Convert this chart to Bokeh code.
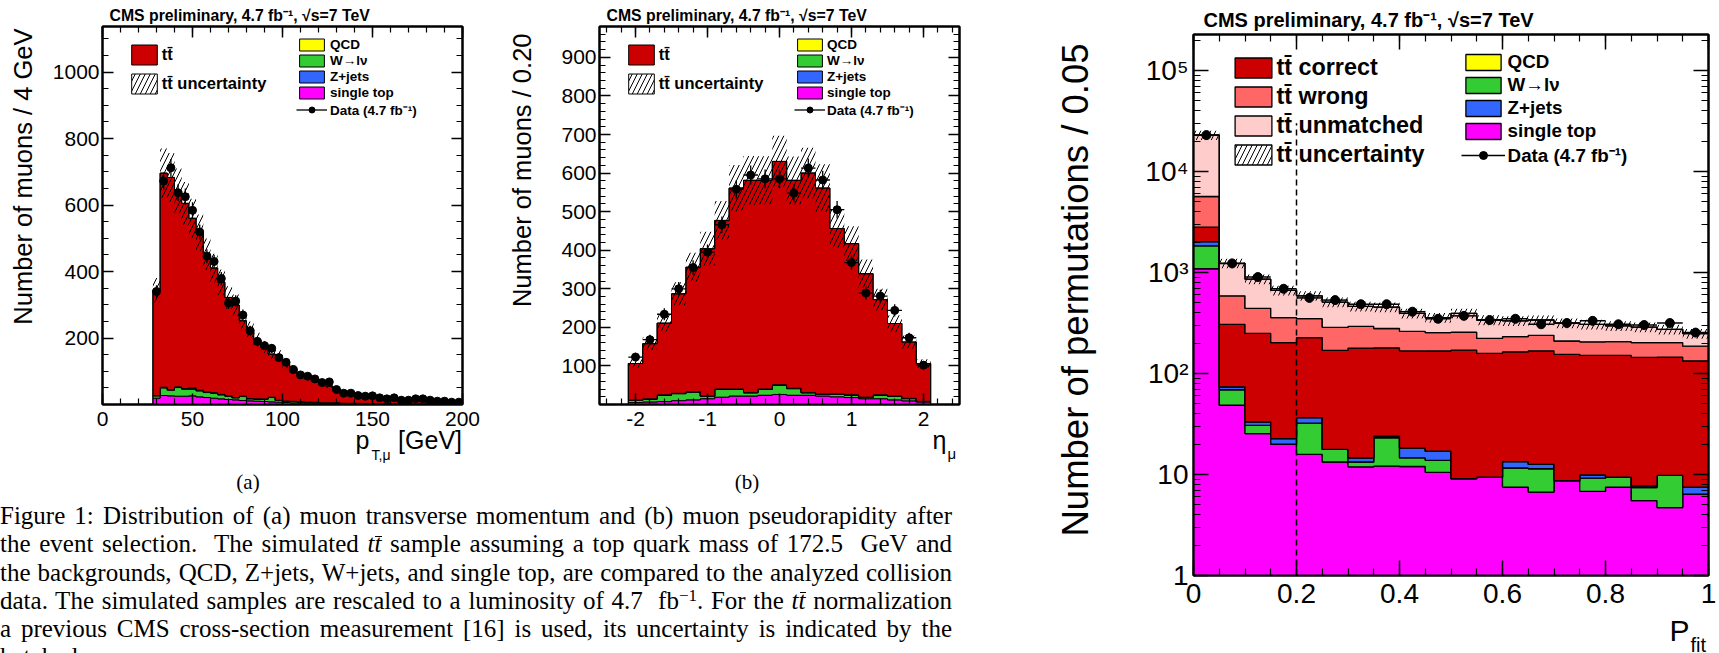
import numpy as np
from bokeh.plotting import figure
from bokeh.models import (FixedTicker, LinearAxis, LogAxis, Label, Legend, LegendItem,
                          Div, CustomJSTickFormatter)
from bokeh.layouts import row, column
from bokeh.embed import file_html
from bokeh.resources import INLINE

FONT = "Liberation Sans"

# ------------------------------------------------------------------ data (a): muon pT
pt_first_edge = 28.0
pt_bin_width = 4.0
pt_data = [340, 672, 712, 637, 625, 584, 519, 446, 430, 379, 305, 311, 269, 222, 190,
           177, 169, 141, 127, 105, 89, 85, 77, 66, 68, 45, 34, 34, 27, 25, 26, 20, 17,
           20, 13, 13, 17, 17, 13, 10, 10, 7, 7]
pt_ttbar = [317, 644, 638, 589, 557, 510, 474, 414, 375, 337, 296, 278, 227, 208, 178,
            155, 130, 135, 111, 97, 83, 75, 65, 58, 50, 42, 36, 32, 28, 24, 21, 18, 17,
            14, 12, 11, 9.6, 8.6, 7.9, 6.9, 6.1, 5.1, 5.2]
pt_single_top = [19, 27, 26, 25, 25, 26, 23, 21, 19, 17, 15, 14, 12, 11, 10, 9, 8, 7, 6, 5,
                 5, 4, 4, 3, 3, 3, 2, 2, 2, 2, 1.5, 1.5, 1.2, 1, 1, 1, 0.8, 0.8, 0.6, 0.6,
                 0.5, 0.5, 0.4]
pt_wjets = [7, 23, 17, 26, 21, 20, 18, 15, 15, 12, 10, 6, 12, 6, 6, 7, 13, 5, 4, 4, 3, 3,
            2.5, 2, 2, 2, 1.5, 1.5, 1.2, 1, 1, 1, 0.8, 0.8, 0.6, 0.6, 0.5, 0.5, 0.4, 0.4,
            0.3, 0.3, 0.3]
pt_zjets = [1, 2, 2, 2, 2, 4, 2, 2, 1.5, 1.5, 1, 1, 1, 1, 1, 0.8, 0.8, 0.7, 0.6, 0.5, 0.5,
            0.4, 0.4, 0.3, 0.3, 0.3, 0.2, 0.2, 0.2, 0.2, 0.2, 0.2, 0.1, 0.1, 0.1, 0.1, 0.1,
            0.1, 0.1, 0.1, 0.1, 0.1, 0.1]
pt_qcd = [0, 0, 0, 0, 0, 0, 0, 0, 0, 0, 0, 0, 0, 0, 0, 0, 0, 0, 0, 0, 0, 0, 0, 0, 0, 0,
          0, 0, 0, 0, 0, 0, 0, 0, 0, 0, 0, 0, 0, 0, 0, 0, 0]

# ------------------------------------------------------------------ data (b): muon eta
eta_first_edge = -2.1
eta_bin_width = 0.2
eta_data = [123, 168, 234, 300, 355, 395, 466, 558, 595, 585, 585, 548, 613, 582, 505,
            368, 289, 281, 244, 173, 102]
eta_ttbar = [95, 143, 186, 258, 323, 382, 437, 521, 550, 541, 579, 539, 569, 534, 429,
             392, 320, 247, 188, 146, 98]
eta_single_top = [5, 6.6, 7.5, 10, 12, 15, 19, 22, 22, 24, 26, 24, 24, 22, 20, 18, 15, 15,
                  12, 9.4, 6.6]
eta_wjets = [5.5, 7, 16.5, 18, 20, 6, 20, 17, 8, 15, 24, 17, 6, 4, 6, 6, 3, 9, 9, 5.6, 1]
eta_zjets = [0.8, 1, 1, 1, 1, 1, 1.2, 1.2, 1.2, 1.2, 1.2, 1.2, 1.2, 1.2, 1.2, 1, 1, 1, 1,
             1, 0.6]
eta_qcd = [0, 0, 0, 0, 0, 0, 0, 0, 0, 0, 0, 0, 0, 0, 0, 0, 0, 0, 0, 0, 0]

# ------------------------------------------------------------------ data (c): P_fit
pfit_first_edge = 0.0
pfit_bin_width = 0.05
pfit_data = [22900, 1230, 901, 690, 560, 533, 485, 485, 409, 348, 372, 338, 348, 307, 316,
             332, 307, 302, 316, 254]
pfit_tt_correct = [795, 233, 216, 179, 190, 152, 164, 155, 149, 150, 161, 149, 150, 155,
                   146, 141, 142, 137, 135, 126]
pfit_tt_wrong = [2832, 280, 192, 156, 122, 117, 114, 100, 94, 87, 86, 64, 68, 71, 55, 55,
                 55, 57, 57, 53]
pfit_tt_unmatched = [17250, 645, 418, 306, 239, 222, 169, 175, 133, 104, 138, 116, 101,
                     100, 106, 101, 90, 86, 72, 62]
pfit_single_top = [1089, 48.5, 25.4, 20, 15.8, 13.3, 11.9, 12.1, 12.0, 10.5, 9.1, 9.4, 7.5,
                   6.7, 8.7, 6.8, 7.5, 5.5, 4.7, 6.4]
pfit_wjets = [748, 20.5, 5.3, 0, 16.4, 4.4, 1.4, 11, 2.6, 3.3, 0, 0, 4.1, 4.7, 0, 2.4, 1.9,
              1.9, 5.1, 0]
pfit_zjets = [186, 4.8, 2.5, 2.7, 4.3, 0, 1.3, 0.9, 3.6, 3.2, 0, 0, 1.8, 1.2, 0, 0.7, 0,
              0.3, 0, 1.1]
pfit_qcd = [0, 0, 0, 0, 0, 0, 0, 0, 0, 0, 0, 0, 0, 0, 0, 0, 0, 0, 0, 0]
pfit_cut = 0.2
pfit_cut_line_top = 3.0e4
pfit_axis_min = 1.0
pfit_axis_max = 2.27e5
log_floor = 0.1

ttbar_rel_unc = 0.115

TITLE = "CMS preliminary, 4.7 fb\u207b\u00b9, \u221as=7 TeV"
TT = "tt\u0304"

C_TT = "#cc0000"
C_WRONG = "#ff6666"
C_UNM = "#ffcccc"
C_QCD = "#ffff00"
C_W = "#33cc33"
C_Z = "#3366ff"
C_ST = "#ff00ff"

MID = 0.35  # distance (in em) from the vertical middle of a text box down to its baseline
HATCH = 10


# ------------------------------------------------------------------ helpers
def make_fig(width, height, bl, br, bt, bb, xr, yr, ylog=False):
    p = figure(width=width, height=height, x_range=xr, y_range=yr,
               y_axis_type="log" if ylog else "linear",
               output_backend="svg", toolbar_location=None,
               min_border_left=bl, min_border_right=br,
               min_border_top=bt, min_border_bottom=bb)
    p.xgrid.visible = False
    p.ygrid.visible = False
    p.outline_line_color = "black"
    p.outline_line_width = 2
    p.background_fill_color = "white"
    p.border_fill_color = "white"
    return p


class Strip:
    """A text-only figure; texts are placed by page pixel (baseline) positions."""

    def __init__(self, x0, y0, w, h, bl=0, br=0, bt=0, bb=0):
        self.fl = x0 + bl
        self.fb = y0 + h - bb
        s = figure(width=w, height=h, x_range=(0, 1), y_range=(0, 1),
                   output_backend="svg", toolbar_location=None,
                   min_border_left=bl, min_border_right=br,
                   min_border_top=bt, min_border_bottom=bb,
                   x_axis_location=None, y_axis_location=None)
        s.grid.visible = False
        s.outline_line_color = None
        s.background_fill_color = "white"
        s.border_fill_color = "white"
        self.fig = s

    def text(self, px, py, text, size, bold=False, align="left", vertical=False):
        if vertical:
            ax, ay, ang = px - MID * size, py, np.pi / 2
        else:
            ax, ay, ang = px, py - MID * size, 0.0
        self.fig.add_layout(Label(
            x=ax - self.fl, y=self.fb - ay, x_units="screen", y_units="screen",
            text=text, text_font=FONT, text_font_size=f"{size}px",
            text_font_style="bold" if bold else "normal", text_color="black",
            text_align=align, text_baseline="middle", angle=ang))


NUM_FMT = "return (Math.round(tick*100)/100).toString();"
LOG_FMT = ("const e = Math.round(Math.log10(tick));"
           "const sup = ['\u2070','\u00b9','\u00b2','\u00b3','\u2074','\u2075','\u2076'];"
           "if (e === 0) return '1'; if (e === 1) return '10'; return '10' + sup[e];")
EMPTY_FMT = "return '';"


def style_axis(ax, ticker, major_len, minor_len, font_size, standoff, fmt):
    ax.ticker = ticker
    ax.formatter = CustomJSTickFormatter(code=fmt)
    ax.major_tick_in = major_len
    ax.major_tick_out = 0
    ax.minor_tick_in = minor_len
    ax.minor_tick_out = 0
    ax.axis_line_color = "black"
    ax.axis_line_width = 2
    ax.major_tick_line_color = "black"
    ax.major_tick_line_width = 1.5
    ax.minor_tick_line_color = "black"
    ax.minor_tick_line_width = 1.2
    ax.major_label_text_font = FONT
    ax.major_label_text_font_size = f"{font_size}px"
    ax.major_label_text_color = "black"
    ax.major_label_standoff = standoff
    ax.axis_label_standoff = 0


def setup_axes(p, xt, yt, major_len, minor_len, font_size, xs_off, ys_off, ylog=False):
    style_axis(p.xaxis[0], xt, major_len, minor_len, font_size, xs_off, NUM_FMT)
    style_axis(p.yaxis[0], yt, major_len, minor_len, font_size, ys_off,
               LOG_FMT if ylog else NUM_FMT)
    top = LinearAxis()
    style_axis(top, xt, major_len, minor_len, 1, 0, EMPTY_FMT)
    p.add_layout(top, "above")
    right = LogAxis() if ylog else LinearAxis()
    style_axis(right, yt, major_len, minor_len, 1, 0, EMPTY_FMT)
    p.add_layout(right, "right")


def band_polygon(edges, lower, upper):
    n = len(lower)
    xs, ys = [], []
    for i in range(n):
        xs += [edges[i], edges[i + 1]]
        ys += [upper[i], upper[i]]
    for i in reversed(range(n)):
        xs += [edges[i + 1], edges[i]]
        ys += [lower[i], lower[i]]
    return xs, ys


def draw_stack(p, edges, layers, colors, base, line_w):
    n = len(layers[0])
    cum = np.zeros(n)
    rends = []
    for vals, col in zip(layers, colors):
        vals = np.asarray(vals, dtype=float)
        lower = cum.copy()
        upper = cum + vals
        lo = np.maximum(lower, base) if base > 0 else lower
        xs, ys = band_polygon(edges, lo, upper)
        rends.append(p.patch(xs, ys, fill_color=col, line_color="black", line_width=line_w))
        cum = upper
    # unfilled outline of the whole stack (coincides with the top layer's outline)
    lo0 = np.full(n, base) if base > 0 else np.zeros(n)
    xs, ys = band_polygon(edges, lo0, cum)
    outline = p.patch(xs, ys, fill_alpha=0, line_color="black", line_width=line_w)
    return cum, rends, outline


def draw_band(p, edges, total, tt_total):
    unc = np.asarray(tt_total) * ttbar_rel_unc
    xs, ys = band_polygon(edges, total - unc, total + unc)
    return p.patch(xs, ys, fill_alpha=0, line_alpha=0, hatch_pattern="/",
                   hatch_color="black", hatch_scale=HATCH, hatch_weight=1)


def draw_data(p, edges, data, size, lw):
    edges = np.asarray(edges)
    centers = 0.5 * (edges[:-1] + edges[1:])
    half = 0.5 * (edges[1:] - edges[:-1])
    d = np.asarray(data, dtype=float)
    err = np.sqrt(d)
    p.segment(x0=centers, y0=d - err, x1=centers, y1=d + err, line_color="black", line_width=lw)
    h = p.segment(x0=centers - half, y0=d, x1=centers + half, y1=d, line_color="black",
                  line_width=lw)
    s = p.scatter(centers, d, size=size, marker="circle", fill_color="black", line_color="black")
    return [h, s]


def add_legend(p, frame_left, frame_bottom, entries, box_left, box_top, box_w, box_h,
               row_h, font_size, text_left):
    gw = int(round(box_w / 0.8))
    gh = int(round(box_h / 0.8))
    lx = box_left - 0.1 * gw
    y0 = box_top - 0.1 * gh
    bottom = y0 + len(entries) * row_h
    items = [LegendItem(label=lab, renderers=rs) for lab, rs in entries]
    leg = Legend(items=items, location=(lx - frame_left, frame_bottom - bottom),
                 glyph_width=gw, glyph_height=gh, label_height=row_h, spacing=0,
                 padding=0, margin=0, label_standoff=int(round(text_left - (lx + gw))),
                 label_text_font=FONT, label_text_font_style="bold",
                 label_text_font_size=f"{font_size}px", label_text_color="black",
                 border_line_alpha=0, background_fill_alpha=0)
    p.add_layout(leg, "center")


# ------------------------------------------------------------------ panel (a)
pt_edges = pt_first_edge + pt_bin_width * np.arange(len(pt_data) + 1)
pa = make_fig(440, 405, 62, 18, 2, 25, (0, 200), (0, 1137))
setup_axes(pa, FixedTicker(ticks=[0, 50, 100, 150, 200], minor_ticks=list(range(0, 201, 10))),
           FixedTicker(ticks=[200, 400, 600, 800, 1000], minor_ticks=list(range(0, 1137, 50))),
           11, 6, 21, 7, 3)
tot_a, ra, out_a = draw_stack(pa, pt_edges, [pt_single_top, pt_wjets, pt_zjets, pt_qcd, pt_ttbar],
                              [C_ST, C_W, C_Z, C_QCD, C_TT], 0, 1)
band_a = draw_band(pa, pt_edges, tot_a, pt_ttbar)
dat_a = draw_data(pa, pt_edges, pt_data, 8, 1.3)
FLa, FBa = 102, 404
add_legend(pa, FLa, FBa, [(TT, [ra[4]]), (TT + " uncertainty", [band_a, out_a])],
           131, 42, 26, 20, 29, 16.5, 162)
add_legend(pa, FLa, FBa, [("QCD", [ra[3]]), ("W\u2192l\u03bd", [ra[1]]), ("Z+jets", [ra[2]]),
                          ("single top", [ra[0]]), ("Data (4.7 fb\u207b\u00b9)", dat_a)],
           299, 40, 25, 12, 16, 13.5, 330)

ta = Strip(0, 0, 480, 24, br=18)
ta.text(109, 20.5, TITLE, 15.8, bold=True)
la = Strip(0, 24, 40, 405, bt=2, bb=25)
la.text(31, 28, "Number of muons / 4 GeV", 25.5, align="right", vertical=True)
xa = Strip(0, 429, 480, 41, br=18)
xa.text(355, 448, "p", 25)
xa.text(371, 459, "T,\u03bc", 14)
xa.text(461.5, 448, "[GeV]", 25, align="right")
panel_a = column(ta.fig, row(la.fig, pa, spacing=0), xa.fig, spacing=0)

# ------------------------------------------------------------------ panel (b)
eta_edges = eta_first_edge + eta_bin_width * np.arange(len(eta_data) + 1)
pb = make_fig(429, 405, 63, 6, 2, 25, (-2.5, 2.5), (0, 980))
setup_axes(pb, FixedTicker(ticks=[-2, -1, 0, 1, 2],
                           minor_ticks=[round(-2.4 + 0.2 * k, 2) for k in range(25)]),
           FixedTicker(ticks=[100, 200, 300, 400, 500, 600, 700, 800, 900],
                       minor_ticks=list(range(0, 981, 20))),
           11, 6, 21, 7, 3)
tot_b, rb, out_b = draw_stack(pb, eta_edges,
                              [eta_single_top, eta_wjets, eta_zjets, eta_qcd, eta_ttbar],
                              [C_ST, C_W, C_Z, C_QCD, C_TT], 0, 1)
band_b = draw_band(pb, eta_edges, tot_b, eta_ttbar)
dat_b = draw_data(pb, eta_edges, eta_data, 8, 1.3)
FLb, FBb = 599, 404
add_legend(pb, FLb, FBb, [(TT, [rb[4]]), (TT + " uncertainty", [band_b, out_b])],
           628, 42, 26, 20, 29, 16.5, 659)
add_legend(pb, FLb, FBb, [("QCD", [rb[3]]), ("W\u2192l\u03bd", [rb[1]]), ("Z+jets", [rb[2]]),
                          ("single top", [rb[0]]), ("Data (4.7 fb\u207b\u00b9)", dat_b)],
           797, 40, 25, 12, 16, 13.5, 827)

tb = Strip(480, 0, 485, 24, br=6)
tb.text(606, 20.5, TITLE, 15.8, bold=True)
lb = Strip(480, 24, 56, 405, bt=2, bb=25)
lb.text(530, 33, "Number of muons / 0.20", 25.5, align="right", vertical=True)
xb = Strip(480, 429, 485, 41, br=6)
xb.text(946, 448, "\u03b7", 25, align="right")
xb.text(947, 458, "\u03bc", 15)
panel_b = column(tb.fig, row(lb.fig, pb, spacing=0), xb.fig, spacing=0)

# ------------------------------------------------------------------ panel (c)
pfit_edges = pfit_first_edge + pfit_bin_width * np.arange(len(pfit_data) + 1)
pc = make_fig(622, 586, 96, 11, 3, 42, (0, 1), (pfit_axis_min, pfit_axis_max), ylog=True)
log_minor = [m * 10 ** k for k in range(0, 6) for m in range(1, 10) if m * 10 ** k < pfit_axis_max]
setup_axes(pc, FixedTicker(ticks=[0, 0.2, 0.4, 0.6, 0.8, 1.0],
                           minor_ticks=[round(0.05 * k, 2) for k in range(21)]),
           FixedTicker(ticks=[1, 10, 100, 1000, 10000, 100000], minor_ticks=log_minor),
           15, 7, 28, 8, 5, ylog=True)
tt_sum_c = np.asarray(pfit_tt_correct) + np.asarray(pfit_tt_wrong) + np.asarray(pfit_tt_unmatched)
tot_c, rc, out_c = draw_stack(pc, pfit_edges,
                              [pfit_single_top, pfit_wjets, pfit_zjets, pfit_qcd,
                               pfit_tt_correct, pfit_tt_wrong, pfit_tt_unmatched],
                              [C_ST, C_W, C_Z, C_QCD, C_TT, C_WRONG, C_UNM], log_floor, 1.3)
band_c = draw_band(pc, pfit_edges, tot_c, tt_sum_c)
pc.segment(x0=[pfit_cut], y0=[pfit_axis_min], x1=[pfit_cut], y1=[pfit_cut_line_top],
           line_color="black", line_width=1.5, line_dash="6 4")
dat_c = draw_data(pc, pfit_edges, pfit_data, 9, 1.5)
FLc, FBc = 1193, 575
add_legend(pc, FLc, FBc, [(TT + " correct", [rc[4]]), (TT + " wrong", [rc[5]]),
                          (TT + " unmatched", [rc[6]]),
                          (TT + " uncertainty", [band_c, out_c])],
           1235, 55, 37, 20, 29, 23.4, 1276)
add_legend(pc, FLc, FBc, [("QCD", [rc[3]]), ("W\u2192l\u03bd", [rc[1]]), ("Z+jets", [rc[2]]),
                          ("single top", [rc[0]]), ("Data (4.7 fb\u207b\u00b9)", dat_c)],
           1465, 55, 35, 16, 23, 18.8, 1508)

tc = Strip(965, 0, 754, 31, br=11)
tc.text(1203, 26.7, TITLE, 20, bold=True)
lc = Strip(965, 31, 132, 586, bt=3, bb=42)
lc.text(1088, 43, "Number of permutations / 0.05", 36.5, align="right", vertical=True)
xc = Strip(965, 617, 754, 36, br=11)
xc.text(1689, 640, "P", 30, align="right")
xc.text(1690, 651, "fit", 20)
panel_c = column(tc.fig, row(lc.fig, pc, spacing=0), xc.fig, spacing=0)

# ------------------------------------------------------------------ caption
TTI = ('<i>t<span style="position:relative;display:inline-block;">t'
       '<span style="position:absolute;left:1px;right:-1px;top:5.5px;'
       'border-top:1.3px solid #000;"></span></span></i>')
cap_lines = [
    "Figure 1: Distribution of (a) muon transverse momentum and (b) muon pseudorapidity after",
    "the event selection.&nbsp; The simulated " + TTI + " sample assuming a top quark mass of 172.5&nbsp; GeV and",
    "the backgrounds, QCD, Z+jets, W+jets, and single top, are compared to the analyzed collision",
    "data. The simulated samples are rescaled to a luminosity of 4.7&nbsp; fb<sup style=\"font-size:17px;vertical-align:0.45em;line-height:0;\">\u22121</sup>. For the " + TTI + " normalization",
    "a previous CMS cross-section measurement [16] is used, its uncertainty is indicated by the",
]
cap_last = "hatched area."
line_html = "".join(
    '<div style="white-space:nowrap;text-align:justify;text-align-last:justify;">%s</div>' % t
    for t in cap_lines)
line_html += '<div style="white-space:nowrap;text-align:left;">%s</div>' % cap_last
html = (
    '<div style="position:relative;width:965px;height:183px;overflow:hidden;background:white;'
    'font-family:\'Liberation Serif\',serif;color:#000;">'
    '<div style="position:absolute;left:0px;top:0px;width:496px;text-align:center;'
    'font-size:21px;line-height:24px;">(a)</div>'
    '<div style="position:absolute;left:498px;top:0px;width:498px;text-align:center;'
    'font-size:21px;line-height:24px;">(b)</div>'
    '<div style="position:absolute;left:0px;top:32px;width:952px;font-size:25px;'
    'line-height:28.3px;">' + line_html + '</div></div>')
cap = Div(text=html, width=965, height=183, margin=0, styles={"overflow": "hidden"})

layout = row(column(row(panel_a, panel_b, spacing=0), cap, spacing=0), panel_c, spacing=0)

with open("out.html", "w") as f:
    f.write(file_html(layout, INLINE))
